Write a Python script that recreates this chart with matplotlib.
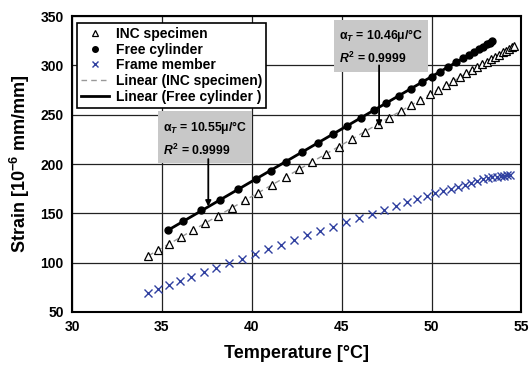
import numpy as np
import matplotlib
matplotlib.use("Agg")
import matplotlib.pyplot as plt

plt.rcParams['font.family'] = ['Liberation Sans', 'DejaVu Sans']
plt.rcParams['font.weight'] = 'bold'
plt.rcParams['axes.labelweight'] = 'bold'
plt.rcParams['mathtext.fontset'] = 'custom'
plt.rcParams['mathtext.rm'] = 'Liberation Sans:bold'
plt.rcParams['mathtext.it'] = 'Liberation Sans:italic:bold'
plt.rcParams['mathtext.bf'] = 'Liberation Sans:bold'

# INC specimen (temperature, strain)
inc_temp = [34.25, 34.79, 35.40, 36.05, 36.74, 37.42, 38.14, 38.89, 39.63, 40.37,
            41.11, 41.89, 42.63, 43.37, 44.11, 44.85, 45.57, 46.28, 47.00, 47.65,
            48.29, 48.84, 49.36, 49.90, 50.36, 50.80, 51.20, 51.58, 51.93, 52.25,
            52.55, 52.83, 53.08, 53.32, 53.55, 53.76, 53.96, 54.14, 54.31, 54.47, 54.60]
inc_strain = [107.0, 112.8, 119.3, 126.1, 133.1, 140.4, 147.8, 155.5, 163.1, 170.9,
              178.6, 186.7, 194.5, 202.2, 210.0, 217.6, 225.2, 232.6, 240.3, 247.0,
              253.7, 259.5, 265.0, 270.6, 275.4, 280.0, 284.2, 288.2, 291.8, 295.2,
              298.3, 301.2, 303.9, 306.4, 308.8, 311.0, 313.1, 315.0, 316.8, 318.4, 319.9]

# Free cylinder
free_temp = [35.35, 36.20, 37.20, 38.24, 39.25, 40.22, 41.06, 41.89, 42.81, 43.69,
             44.54, 45.32, 46.06, 46.80, 47.49, 48.19, 48.88, 49.49, 50.01, 50.47,
             50.93, 51.35, 51.73, 52.07, 52.37, 52.63, 52.86, 53.06, 53.23, 53.38]
free_strain = [133.6, 142.4, 152.9, 163.8, 174.4, 184.6, 193.4, 202.3, 212.1, 221.3,
               230.4, 238.7, 246.4, 254.3, 261.7, 269.2, 276.5, 283.1, 288.6, 293.6,
               298.5, 303.0, 307.1, 310.7, 313.9, 316.7, 319.1, 321.3, 323.1, 324.7]

# Frame member
frame_temp = [34.24, 34.81, 35.38, 36.00, 36.64, 37.32, 38.02, 38.72, 39.43, 40.19,
              40.91, 41.60, 42.36, 43.08, 43.79, 44.53, 45.25, 45.97, 46.68, 47.37,
              48.03, 48.65, 49.21, 49.72, 50.20, 50.65, 51.07, 51.47, 51.85, 52.20,
              52.53, 52.84, 53.12, 53.38, 53.62, 53.84, 54.04, 54.22, 54.36]
frame_strain = [69.6, 73.7, 77.1, 81.6, 85.8, 90.6, 95.1, 99.5, 104.0, 109.2,
                113.9, 118.4, 122.8, 127.7, 132.2, 136.6, 141.0, 145.4, 149.7, 153.8,
                157.7, 161.3, 165.0, 167.8, 170.4, 172.8, 175.1, 177.2, 179.2, 181.1,
                182.8, 184.4, 185.8, 186.6, 187.2, 187.8, 188.2, 188.6, 188.9]

fig = plt.figure(figsize=(5.31, 3.69), dpi=100)
ax = fig.add_axes([0.1356, 0.1545, 0.8465, 0.802])

ax.set_xlim(30, 55)
ax.set_ylim(50, 350)
ax.set_xticks(np.arange(30, 56, 5))
ax.set_yticks(np.arange(50, 351, 50))
ax.grid(True, color='#222222', lw=0.9)
ax.set_axisbelow(True)
ax.tick_params(length=0, pad=6, labelsize=10)
for s in ax.spines.values():
    s.set_linewidth(1.5)

# trend lines
p_inc = np.polyfit(inc_temp, inc_strain, 1)
p_free = np.polyfit(free_temp, free_strain, 1)
t_inc = np.array([inc_temp[0], inc_temp[-1]])
t_free = np.array([free_temp[0], free_temp[-1]])

ax.plot(inc_temp, inc_strain, '^', ms=5.2, mfc='white', mec='black', mew=0.9,
        ls='none', label='INC specimen', zorder=4)
ax.plot(free_temp, free_strain, 'o', ms=5, color='black',
        ls='none', label='Free cylinder', zorder=4)
ax.plot(frame_temp, frame_strain, 'x', ms=5.5, color='#3040a0', mew=1.0,
        ls='none', label='Frame member', zorder=4)
ax.plot(t_inc, np.polyval(p_inc, t_inc), ls=(0, (4, 3)), color='#999999', lw=1,
        label='Linear (INC specimen)', zorder=3)
ax.plot(t_free, np.polyval(p_free, t_free), '-', color='black', lw=2,
        label='Linear (Free cylinder )', zorder=3)

leg = ax.legend(loc='upper left', bbox_to_anchor=(0.011, 0.977), borderaxespad=0,
                fontsize=10, fancybox=False, framealpha=1, edgecolor='black',
                labelspacing=0.12, handlelength=2.0, handletextpad=0.5,
                borderpad=0.3, markerscale=0.8)
leg.get_frame().set_linewidth(1.2)

box = dict(boxstyle='square,pad=0.42', fc='#c8c8c8', ec='none')
ax.text(35.05, 226, 'α$_{T}$ = 10.55μ/°C\n$R^{2}$ = 0.9999', fontsize=8.8,
        va='center', ha='left', linespacing=1.6, bbox=box, zorder=5)
ax.text(44.85, 319, 'α$_{T}$ = 10.46μ/°C\n$R^{2}$ = 0.9999', fontsize=8.8,
        va='center', ha='left', linespacing=1.6, bbox=box, zorder=5)

arrow = dict(arrowstyle='-|>', color='black', lw=1.3, mutation_scale=8,
             shrinkA=0, shrinkB=0)
ax.annotate('', xy=(37.58, 157), xytext=(37.58, 205), arrowprops=arrow, zorder=5)
ax.annotate('', xy=(47.08, 238), xytext=(47.08, 300), arrowprops=arrow, zorder=5)

ax.set_xlabel('Temperature [°C]', fontsize=13, labelpad=8)
ax.set_ylabel('Strain [10$^{-6}$ mm/mm]', fontsize=13, labelpad=6)

fig.savefig('out.png', dpi=100)
